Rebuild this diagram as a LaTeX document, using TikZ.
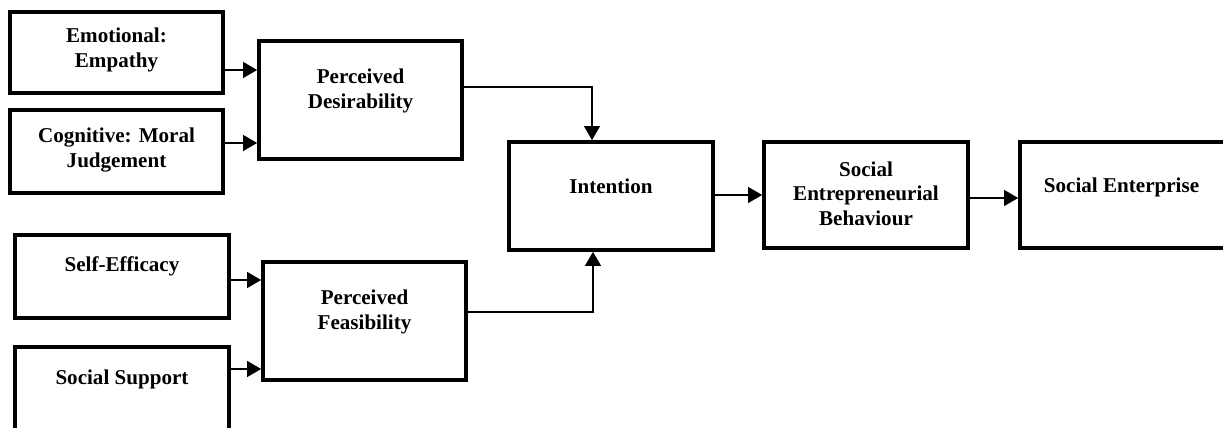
\documentclass[tikz,border=0pt]{standalone}
\usepackage{fontspec}
\setmainfont{Liberation Serif}
\usetikzlibrary{arrows.meta,calc}
\begin{document}
\begin{tikzpicture}[x=0.02cm,y=-0.02cm,line cap=butt,line join=miter,
  box/.style={draw=black,line width=2.1pt,minimum width=4.08cm,inner sep=0pt},
  txt/.style={align=center,font=\bfseries\fontsize{12}{14}\selectfont,inner sep=0pt},
  arr/.style={line width=1pt,-{Triangle[length=8pt,width=9pt]}}]
\useasboundingbox (0,0) rectangle (1223,428);
% left column
\node[box,minimum width=4.26cm,minimum height=1.62cm] (emo) at (116.5,52.5) {};
\node[box,minimum width=4.26cm,minimum height=1.66cm] (cog) at (116.5,151.5) {};
\node[box,minimum width=4.28cm,minimum height=1.66cm] (self) at (122,276.5) {};
\node[box,minimum width=4.28cm,minimum height=1.70cm] (supp) at (122,389.5) {};
% middle column
\node[box,minimum width=4.06cm,minimum height=2.36cm] (des) at (360.5,100) {};
\node[box,minimum width=4.06cm,minimum height=2.36cm] (fea) at (364.5,321) {};
% right row
\node[box,minimum height=2.16cm] (int) at (611,196) {};
\node[box,minimum height=2.12cm] (seb) at (866,195) {};
\node[box,minimum width=4.5cm,minimum height=2.12cm] (ent) at (1132.5,195) {};
% texts
\node[txt] (emoT) at ($(emo)+(0,-2.5)$) {Emotional:\\Empathy};
\node[txt] (cogT) at ($(cog)+(0,-1.5)$) {Cognitive: Moral\\Judgement};
\node[txt] (selfT) at ($(self)+(0,-10)$) {Self-Efficacy};
\node[txt] (suppT) at ($(supp)+(0,-10)$) {Social Support};
\node[txt] (desT) at ($(des)+(0,-9)$) {Perceived\\Desirability};
\node[txt] (feaT) at ($(fea)+(0,-9)$) {Perceived\\Feasibility};
\node[txt] (intT) at ($(int)+(0,-10)$) {Intention};
\node[txt] (sebT) at ($(seb)+(0,-1.5)$) {Social\\Entrepreneurial\\Behaviour};
\node[txt] (entT) at ($(ent)+(-11,-8)$) {Social Enterprise};
% arrows
\draw[arr] (emo.east |- 0,70) -- (des.west |- 0,70);
\draw[arr] (cog.east |- 0,143) -- (des.west |- 0,143);
\draw[arr] (self.east |- 0,280) -- (fea.west |- 0,280);
\draw[arr] (supp.east |- 0,369) -- (fea.west |- 0,369);
\draw[arr] (des.east |- 0,87) -| ($(int.north)+(-19,0)$);
\draw[arr] (fea.east |- 0,312) -| ($(int.south)+(-18,0)$);
\draw[arr] (int.east |- 0,195) -- (seb.west |- 0,195);
\draw[arr] (seb.east |- 0,198) -- (ent.west |- 0,198);
\end{tikzpicture}
\end{document}
